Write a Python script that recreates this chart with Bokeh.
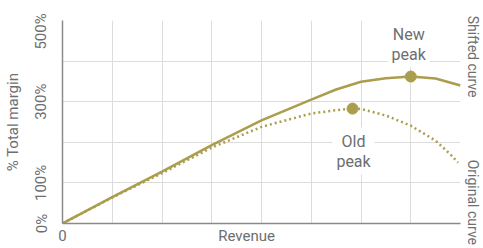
from bokeh.plotting import figure
from bokeh.models import Range1d, FixedTicker, Label, LinearAxis
from bokeh.embed import file_html
from bokeh.resources import INLINE

# ---- data ----
revenue_shifted = [0, 1, 2, 3, 4, 5, 5.5, 6, 6.5, 7.0, 7.5, 8]
margin_shifted = [0, 65, 128, 193, 254, 305, 330, 349, 358, 362, 357, 340]

revenue_original = [0, 1, 2, 3, 4, 5, 5.5, 5.83, 6, 6.5, 7, 7.5, 7.8, 7.95]
margin_original = [0, 64, 124, 187, 238, 271, 279, 283, 282, 266, 241, 204, 170, 150]

new_peak_x = [7.0]
new_peak_y = [362]
old_peak_x = [5.83]
old_peak_y = [283]

# grid ticks
x_grid_ticks = [0, 1, 2, 3, 4, 5, 6, 7, 8]
y_grid_ticks = [0, 100, 200, 300, 400, 500]

# tick label texts and where they sit
x_label_ticks = [0, 3.7]
x_tick_labels = ["0", "Revenue"]
y_label_ticks = [0, 100, 300, 473]
y_tick_labels = ["0%", "100%", "300%", "500%"]
curve_label_ticks = [411, 52]
curve_labels = ["Shifted curve", "Original curve"]

FONT = "Roboto"
TEXT = "#6d6e70"
OLIVE = "#aa9d4c"
AXIS = "#8a8a8a"

p = figure(width=483, height=248, x_range=Range1d(0, 8), y_range=Range1d(0, 500),
           output_backend="svg", toolbar_location=None,
           min_border_left=62, min_border_right=23, min_border_top=20, min_border_bottom=25)
p.outline_line_color = None
p.background_fill_color = "white"

# grids
p.xgrid.ticker = FixedTicker(ticks=x_grid_ticks)
p.ygrid.ticker = FixedTicker(ticks=y_grid_ticks)
for g in (p.xgrid, p.ygrid):
    g.grid_line_color = "#dcdcdc"
    g.grid_line_width = 1


def no_ticks(ax):
    ax.major_tick_line_color = None
    ax.minor_tick_line_color = None
    ax.major_tick_out = 0
    ax.major_tick_in = 0
    ax.minor_tick_out = 0
    ax.minor_tick_in = 0


# x axis ("0" and "Revenue" on one row)
xa = p.xaxis[0]
xa.ticker = FixedTicker(ticks=x_label_ticks)
xa.major_label_overrides = {t: lab for t, lab in zip(x_label_ticks, x_tick_labels)}
no_ticks(xa)
xa.major_label_standoff = 3
xa.axis_line_color = AXIS
xa.axis_line_width = 1.5
xa.major_label_text_font = FONT
xa.major_label_text_font_size = "15px"
xa.major_label_text_color = TEXT

# y axis
ya = p.yaxis[0]
ya.ticker = FixedTicker(ticks=y_label_ticks)
ya.major_label_overrides = {t: lab for t, lab in zip(y_label_ticks, y_tick_labels)}
ya.major_label_orientation = "vertical"
no_ticks(ya)
ya.major_label_standoff = 12
ya.axis_line_color = AXIS
ya.axis_line_width = 1.5
ya.major_label_text_font = FONT
ya.major_label_text_font_size = "15px"
ya.major_label_text_color = TEXT
ya.axis_label = "% Total margin"
ya.axis_label_text_font = FONT
ya.axis_label_text_font_size = "15px"
ya.axis_label_text_font_style = "normal"
ya.axis_label_text_color = TEXT
ya.axis_label_standoff = 8

# right side: curve names
ra = LinearAxis(ticker=FixedTicker(ticks=curve_label_ticks),
                major_label_overrides={t: lab for t, lab in zip(curve_label_ticks, curve_labels)})
ra.major_label_orientation = "vertical"
ra.axis_line_color = None
no_ticks(ra)
ra.major_label_standoff = 4
ra.major_label_text_font = FONT
ra.major_label_text_font_size = "14px"
ra.major_label_text_color = TEXT
p.add_layout(ra, "right")

# curves
p.line(revenue_original, margin_original, line_color=OLIVE, line_width=2.5, line_dash="2 3")
p.line(revenue_shifted, margin_shifted, line_color=OLIVE, line_width=2.5)
p.scatter(new_peak_x, new_peak_y, size=11, color=OLIVE)
p.scatter(old_peak_x, old_peak_y, size=11, color=OLIVE)

# peak labels
p.add_layout(Label(x=new_peak_x[0], y=new_peak_y[0], text="New\npeak", text_align="center",
                   text_baseline="bottom", x_offset=-2, y_offset=9, text_font=FONT,
                   text_font_size="16px", text_color=TEXT, text_line_height=1.05,
                   background_fill_color="white", padding=4))
p.add_layout(Label(x=old_peak_x[0], y=old_peak_y[0], text="Old\npeak", text_align="center",
                   text_baseline="top", x_offset=1, y_offset=-19, text_font=FONT,
                   text_font_size="16px", text_color=TEXT, text_line_height=1.05,
                   background_fill_color="white", padding=4))

open("out.html", "w").write(file_html(p, INLINE))
